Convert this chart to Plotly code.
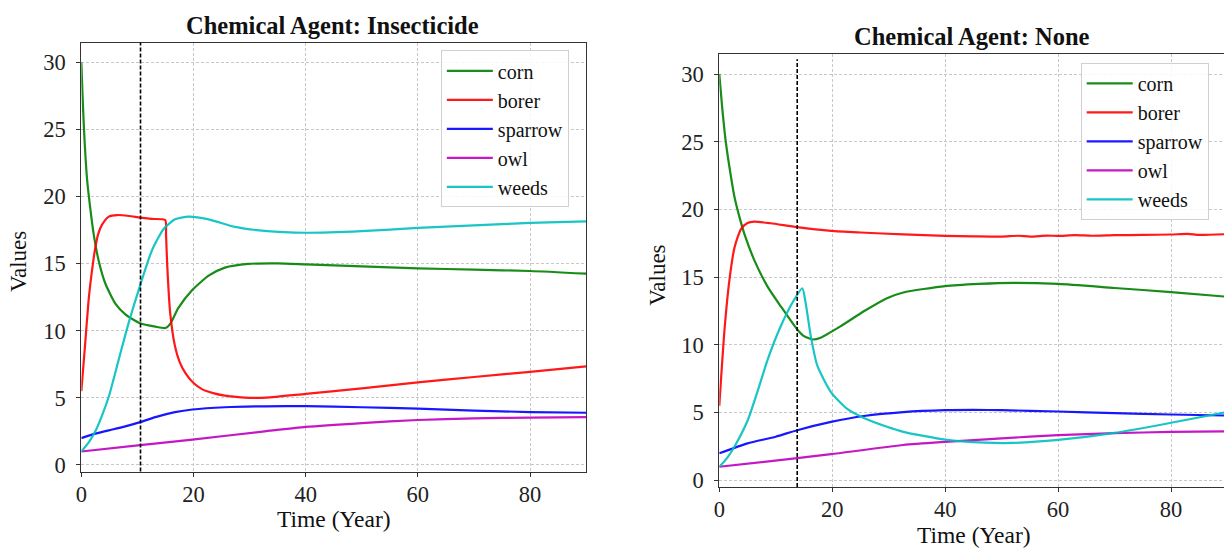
import plotly.graph_objects as go

W, H = 1224, 552
FONT = "'Liberation Serif', 'Times New Roman', Times, serif"

series_names = ["corn", "borer", "sparrow", "owl", "weeds"]
series_colors = ["#008000", "#ff0000", "#0000ff", "#bf00bf", "#00bfbf"]

# ---------- Panel 1: Chemical Agent: Insecticide ----------
ins_title = "Chemical Agent: Insecticide"
ins_event_year = 10.55

ins_corn_t = [0, 0.25, 0.5, 1.0, 1.4, 2.2, 3.1, 4.3, 6.1, 7.9, 10.5, 13.2, 15.0, 15.9, 17.3, 19.7, 22.7, 25.6, 29.8, 35, 40, 50, 60, 70, 80, 90]
ins_corn = [30, 27.2, 24.8, 21.4, 19.8, 17.2, 15.2, 13.5, 12.0, 11.2, 10.55, 10.3, 10.2, 10.55, 11.7, 13.0, 14.1, 14.7, 14.98, 15.02, 14.95, 14.8, 14.65, 14.55, 14.45, 14.25]

ins_borer_t = [0, 0.6, 1.35, 2.0, 2.5, 3.0, 3.7, 4.9, 6.4, 8.5, 10.5, 12.5, 14.95, 15.1, 15.3, 15.85, 16.7, 17.5, 18.5, 20, 21.5, 23.5, 25.6, 28, 30, 33, 40, 50, 60, 70, 80, 90]
ins_borer = [5.5, 8.6, 12.5, 14.8, 16.2, 17.2, 17.9, 18.5, 18.62, 18.55, 18.42, 18.33, 18.25, 17.2, 15.0, 11.3, 8.84, 7.7, 6.88, 6.1, 5.65, 5.35, 5.16, 5.05, 5.0, 5.02, 5.3, 5.7, 6.15, 6.55, 6.94, 7.35]

ins_sparrow_t = [0, 2.5, 4.9, 7, 10.5, 13.2, 16.7, 19.8, 25.6, 32.7, 40, 50, 60, 70, 80, 90]
ins_sparrow = [2.0, 2.33, 2.58, 2.78, 3.19, 3.56, 3.93, 4.13, 4.3, 4.37, 4.38, 4.3, 4.19, 4.05, 3.94, 3.89]

ins_owl_t = [0, 10.5, 19.8, 32.7, 40, 50, 60, 70, 80, 90]
ins_owl = [1.0, 1.47, 1.89, 2.5, 2.83, 3.12, 3.35, 3.47, 3.53, 3.57]

ins_weeds_t = [0, 1.35, 2.54, 3.7, 4.9, 6.7, 8.45, 10.5, 12.6, 14.7, 16.7, 19.1, 22.7, 27.4, 32.7, 40, 50, 60, 70, 80, 90]
ins_weeds = [1.0, 1.7, 2.55, 3.7, 5.1, 7.9, 10.6, 13.4, 16.0, 17.6, 18.3, 18.5, 18.3, 17.74, 17.44, 17.3, 17.42, 17.66, 17.85, 18.03, 18.15]

# ---------- Panel 2: Chemical Agent: None ----------
non_title = "Chemical Agent: None"
non_event_year = 13.8
non_event_top = 31.1

non_corn_t = [0, 0.5, 1.15, 2.0, 2.7, 3.6, 4.44, 6.2, 8.55, 10.9, 13.8, 15.0, 16.5, 17.95, 21.5, 25.6, 29.7, 32.6, 40, 46, 52, 60, 70, 80, 90]
non_corn = [30, 27.6, 25.0, 22.6, 20.9, 19.4, 18.2, 16.26, 14.3, 12.84, 11.14, 10.65, 10.4, 10.53, 11.38, 12.48, 13.45, 13.87, 14.34, 14.5, 14.58, 14.5, 14.2, 13.9, 13.55]

non_borer_t = [0, 0.92, 1.8, 2.7, 3.86, 5, 6.2, 9.1, 13.8, 19.8, 25, 32.6, 40, 45, 50, 53, 55, 58, 60, 63, 66, 70, 75, 80, 83, 85, 90]
non_borer = [5.5, 11.1, 14.8, 17.2, 18.57, 19.0, 19.1, 18.98, 18.69, 18.42, 18.3, 18.16, 18.05, 18.02, 18.0, 18.06, 18.0, 18.07, 18.05, 18.1, 18.06, 18.1, 18.12, 18.15, 18.2, 18.12, 18.18]

non_sparrow_t = [0, 5, 10, 13.8, 19.8, 25.6, 32.6, 40, 45, 50, 60, 70, 80, 90]
non_sparrow = [2.0, 2.73, 3.22, 3.7, 4.31, 4.75, 5.04, 5.18, 5.2, 5.18, 5.08, 4.96, 4.86, 4.78]

non_owl_t = [0, 13.8, 19.8, 32.6, 40, 50, 60, 70, 80, 90]
non_owl = [1.0, 1.64, 1.93, 2.61, 2.84, 3.1, 3.33, 3.48, 3.57, 3.62]

non_weeds_t = [0, 1.3, 2.7, 5.0, 6.8, 8.55, 10.9, 13.25, 14.7, 15.3, 16.2, 17.36, 19.8, 22.6, 25.6, 29.7, 32.6, 40, 47, 52, 60, 70, 80, 90]
non_weeds = [1.0, 1.6, 2.5, 4.4, 6.6, 8.9, 11.4, 13.33, 14.18, 13.08, 10.65, 8.46, 6.5, 5.29, 4.6, 3.95, 3.58, 3.0, 2.78, 2.76, 2.98, 3.5, 4.25, 5.05]

ins_data = [(ins_corn_t, ins_corn), (ins_borer_t, ins_borer), (ins_sparrow_t, ins_sparrow),
            (ins_owl_t, ins_owl), (ins_weeds_t, ins_weeds)]
non_data = [(non_corn_t, non_corn), (non_borer_t, non_borer), (non_sparrow_t, non_sparrow),
            (non_owl_t, non_owl), (non_weeds_t, non_weeds)]

x_ticks = [0, 20, 40, 60, 80]
y_ticks = [0, 5, 10, 15, 20, 25, 30]
y_range = [-0.49, 31.45]


def px_x(p):
    return p / W


def px_y(p):
    return 1 - p / H


fig = go.Figure()

for (t, v), name, col in zip(ins_data, series_names, series_colors):
    fig.add_trace(go.Scatter(x=t, y=v, mode="lines", name=name,
                             line=dict(color=col, width=2.2, shape="spline", smoothing=0.6),
                             opacity=0.9, xaxis="x", yaxis="y", legend="legend",
                             legendgroup="a" + name))
for (t, v), name, col in zip(non_data, series_names, series_colors):
    fig.add_trace(go.Scatter(x=t, y=v, mode="lines", name=name,
                             line=dict(color=col, width=2.2, shape="spline", smoothing=0.6),
                             opacity=0.9, xaxis="x2", yaxis="y2", legend="legend2",
                             legendgroup="b" + name))

axis_common = dict(
    showline=True, linecolor="#333333", linewidth=1.2,
    ticks="outside", ticklen=4, tickwidth=1.1, tickcolor="#333333",
    showgrid=True, gridcolor="#c8c8c8", gridwidth=0.8, griddash="3px,2px",
    zeroline=False,
    tickfont=dict(family=FONT, size=22.5, color="#222222"),
)

x2_end = (W - 716.8) / 5.675

fig.update_layout(
    width=W, height=H,
    margin=dict(l=0, r=0, t=0, b=0),
    paper_bgcolor="white", plot_bgcolor="white",
    showlegend=True,
    xaxis=dict(domain=[px_x(75.7), px_x(583)], range=[0, 90], tickvals=x_ticks,
               mirror=True, anchor="y", ticklabelstandoff=-2, **axis_common),
    yaxis=dict(domain=[px_y(476.7), px_y(43.3)], range=y_range, tickvals=y_ticks,
               mirror=True, anchor="x", ticklabelstandoff=6, **axis_common),
    xaxis2=dict(domain=[px_x(716.8), 1.0], range=[0, x2_end], tickvals=x_ticks,
                mirror=True, anchor="y2", ticklabelstandoff=-2, **axis_common),
    yaxis2=dict(domain=[px_y(492.3), px_y(55)], range=y_range, tickvals=y_ticks,
                mirror=False, anchor="x2", ticklabelstandoff=6, **axis_common),
    legend=dict(x=px_x(437), xanchor="left", y=px_y(51), yanchor="top",
                bgcolor="rgba(255,255,255,0.85)", bordercolor="#d0d0d0", borderwidth=1,
                font=dict(family=FONT, size=20, color="#111111"),
                tracegroupgap=0, itemwidth=46),
    legend2=dict(x=px_x(1080), xanchor="left", y=px_y(63.5), yanchor="top",
                 bgcolor="rgba(255,255,255,0.85)", bordercolor="#d0d0d0", borderwidth=1,
                 font=dict(family=FONT, size=20, color="#111111"),
                 tracegroupgap=0, itemwidth=46),
)

fig.add_shape(type="line", xref="x", yref="y domain", x0=ins_event_year, x1=ins_event_year,
              y0=0, y1=1, line=dict(color="black", width=1.6, dash="4px,2px"))
fig.add_shape(type="line", xref="x2", yref="y2", x0=non_event_year, x1=non_event_year,
              y0=y_range[0], y1=non_event_top, line=dict(color="black", width=1.6, dash="4px,2px"))

ann = [
    dict(text="<b>" + ins_title + "</b>", x=px_x(328), y=px_y(26), size=24.5),
    dict(text="<b>" + non_title + "</b>", x=px_x(971), y=px_y(37), size=24.5),
    dict(text="Time (Year)", x=px_x(329.4), y=px_y(525), size=23.5),
    dict(text="Time (Year)", x=px_x(972.3), y=px_y(541), size=23.5),
]
for a in ann:
    fig.add_annotation(text=a["text"], x=a["x"], y=a["y"], xref="paper", yref="paper",
                       xanchor="center", yanchor="middle", showarrow=False,
                       font=dict(family=FONT, size=a["size"], color="#111111"))
fig.add_annotation(text="Values", x=px_x(12), y=px_y(264), xref="paper", yref="paper",
                   textangle=-90, xanchor="center", yanchor="middle", showarrow=False,
                   font=dict(family=FONT, size=23, color="#111111"))
fig.add_annotation(text="Values", x=px_x(655), y=px_y(278), xref="paper", yref="paper",
                   textangle=-90, xanchor="center", yanchor="middle", showarrow=False,
                   font=dict(family=FONT, size=23, color="#111111"))

fig.write_html("out.html")
